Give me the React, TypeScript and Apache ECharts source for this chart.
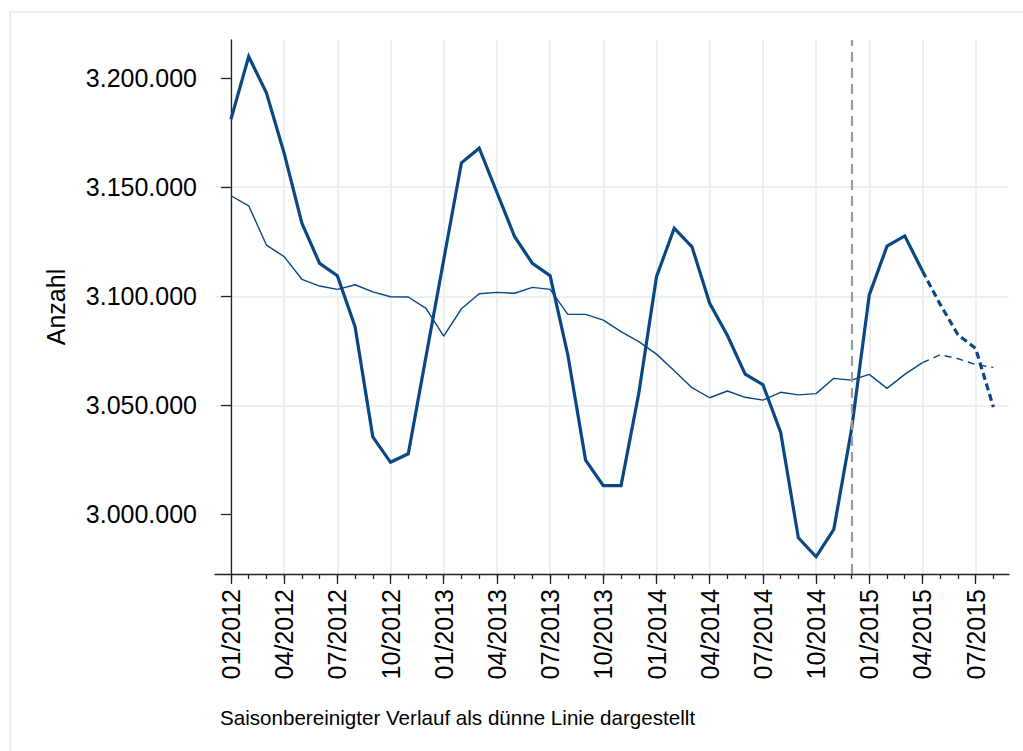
import React, { useEffect, useRef } from "react";
import * as echarts from "echarts";

// Monthly values 01/2012 .. 08/2015 (index 0 = 01/2012)
const actualValues = [
  3181100, 3209900, 3193300, 3165600, 3133500, 3115100, 3109400, 3086100, 3035600, 3023900, 3027800, 3072400,
  3116800, 3161200, 3167900, 3147600, 3127300, 3115100, 3109400, 3073100, 3024900, 3013200, 3013200, 3055500,
  3109000, 3131200, 3122700, 3096800, 3082000, 3064300, 3059500, 3037700, 2989300, 2980600, 2993200, 3039000,
  3100600, 3123000, 3127700, 3111600, 3096300, 3082400, 3076100, 3049200,
];
const adjustedValues = [
  3146100, 3141500, 3123500, 3118200, 3107800, 3104700, 3103200, 3105300, 3102000, 3099800, 3099700, 3094500,
  3081800, 3094300, 3101200, 3101800, 3101400, 3104100, 3103200, 3091700, 3091700, 3089100, 3083800, 3079200,
  3073500, 3065900, 3058100, 3053500, 3056600, 3053700, 3052400, 3056000, 3054800, 3055400, 3062400, 3061600,
  3064200, 3057800, 3064200, 3069600, 3073200, 3071400, 3068700, 3067400,
];
const quarterLabels = [
  "01/2012", "04/2012", "07/2012", "10/2012",
  "01/2013", "04/2013", "07/2013", "10/2013",
  "01/2014", "04/2014", "07/2014", "10/2014",
  "01/2015", "04/2015", "07/2015",
];
const yTickValues = [3000000, 3050000, 3100000, 3150000, 3200000];
const forecastStart = 39; // 04/2015
const markerMonth = 35; // 12/2014
const caption = "Saisonbereinigter Verlauf als dünne Linie dargestellt";
const yTitle = "Anzahl";

const FONT = "'Liberation Sans', Arial, Helvetica, sans-serif";
const NAVY = "#0a4784";
const GRID = "#e9f1f4";

const fmt = (v: number) => String(Math.round(v)).replace(/\B(?=(\d{3})+(?!\d))/g, ".");

export default function App() {
  const ref = useRef<HTMLDivElement>(null);
  useEffect(() => {
    if (!ref.current) return;
    const chart = echarts.init(ref.current, null, { renderer: "svg" });
    const monthIdx = actualValues.map((_, i) => i);
    const quarterIdx = quarterLabels.map((_, i) => i * 3);
    const solid = (arr: number[]) => arr.slice(0, forecastStart + 1).map((v, i) => [i, v]);
    const dashed = (arr: number[]) => arr.slice(forecastStart).map((v, j) => [forecastStart + j, v]);
    const xMin = -0.9;
    const xMax = 43.88;
    chart.setOption({
      animation: false,
      backgroundColor: "#ffffff",
      textStyle: { fontFamily: FONT },
      grid: { left: 215, right: 14, top: 40, bottom: 177, containLabel: false },
      graphic: [
        {
          type: "rect",
          shape: { x: 10, y: 12, width: 1040, height: 780 },
          style: { fill: "none", stroke: "#e2ebee", lineWidth: 1.5 },
          silent: true,
        },
        {
          type: "text",
          x: 220,
          y: 717,
          style: {
            text: caption,
            fontSize: 20.6,
            fontFamily: FONT,
            fill: "#000",
            verticalAlign: "middle",
            align: "left",
          },
        },
      ],
      xAxis: [
        {
          type: "value",
          min: xMin,
          max: xMax,
          position: "bottom",
          axisLine: { show: true, onZero: false, lineStyle: { color: "#222", width: 1.3 } },
          axisTick: { show: true, customValues: monthIdx, length: 5, lineStyle: { color: "#222", width: 1.3 } },
          axisLabel: { show: false },
          splitLine: { show: false },
        },
        {
          type: "value",
          min: xMin,
          max: xMax,
          position: "bottom",
          axisLine: { show: false, onZero: false },
          axisTick: { show: true, customValues: quarterIdx, length: 10, lineStyle: { color: "#222", width: 1.3 } },
          axisLabel: {
            show: true,
            customValues: quarterIdx,
            rotate: 90,
            margin: 15,
            fontSize: 25,
            fontFamily: FONT,
            color: "#000",
            formatter: (v: number) => quarterLabels[Math.round(v / 3)] ?? "",
          },
          splitLine: { show: true, lineStyle: { color: GRID, width: 2 } },
        },
      ],
      yAxis: {
        type: "value",
        min: 2972700,
        max: 3217500,
        name: yTitle,
        nameLocation: "middle",
        nameGap: 147,
        nameTextStyle: { fontSize: 25, fontFamily: FONT, color: "#000" },
        axisLine: { show: true, lineStyle: { color: "#222", width: 1.3 } },
        axisTick: { show: true, customValues: yTickValues, length: 10, lineStyle: { color: "#222", width: 1.3 } },
        axisLabel: {
          customValues: yTickValues,
          margin: 18,
          fontSize: 25,
          fontFamily: FONT,
          color: "#000",
          formatter: (v: number) => fmt(v),
        },
        splitLine: { show: true, showMinLine: false, showMaxLine: false, lineStyle: { color: GRID, width: 2 } },
      },
      series: [
        {
          type: "line",
          name: "bereinigt",
          data: solid(adjustedValues),
          showSymbol: false,
          symbol: "none",
          lineStyle: { color: NAVY, width: 1.4 },
          z: 2,
          markLine: {
            silent: true,
            symbol: "none",
            label: { show: false },
            lineStyle: { color: "#9c9c9c", width: 2.2, type: [10, 6] },
            data: [{ xAxis: markerMonth }],
          },
        },
        {
          type: "line",
          name: "bereinigt Prognose",
          data: dashed(adjustedValues),
          showSymbol: false,
          symbol: "none",
          lineStyle: { color: NAVY, width: 1.4, type: [7, 5] },
          z: 2,
        },
        {
          type: "line",
          name: "Anzahl",
          data: solid(actualValues),
          showSymbol: false,
          symbol: "none",
          lineStyle: { color: NAVY, width: 3.2, join: "miter" },
          z: 3,
        },
        {
          type: "line",
          name: "Anzahl Prognose",
          data: dashed(actualValues),
          showSymbol: false,
          symbol: "none",
          lineStyle: { color: NAVY, width: 3.2, type: [7, 4] },
          z: 3,
        },
      ],
    });
    return () => chart.dispose();
  }, []);
  return (
    <div
      ref={ref}
      style={{ position: "absolute", left: 0, top: 0, width: 1023, height: 751, background: "#fff" }}
    />
  );
}
